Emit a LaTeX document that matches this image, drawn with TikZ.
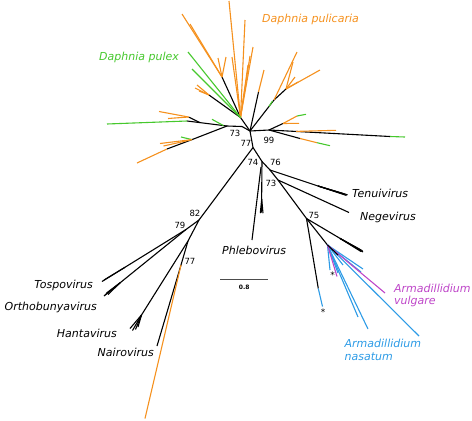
\documentclass[tikz,border=0pt]{standalone}
\usepackage{fontspec}
\setmainfont{DejaVu Sans}
\usepackage{tikz}
\usetikzlibrary{positioning}
\definecolor{PulicariaColor}{RGB}{245,145,30}
\definecolor{PulexColor}{RGB}{70,200,45}
\definecolor{NasatumColor}{RGB}{45,155,230}
\definecolor{VulgareColor}{RGB}{190,70,200}
\tikzstyle{branch} = [line width=1.1pt, black]
\tikzstyle{pulicaria} = [line width=1.1pt, PulicariaColor]
\tikzstyle{pulex} = [line width=1.1pt, PulexColor]
\tikzstyle{nasatum} = [line width=1.1pt, NasatumColor]
\tikzstyle{vulgare} = [line width=1.1pt, VulgareColor]
\tikzstyle{taxon} = [inner sep=0pt, font=\fontsize{11}{13}\selectfont\itshape]
\tikzstyle{support} = [inner sep=0pt, font=\fontsize{8.5}{10}\selectfont]
\tikzstyle{starlabel} = [inner sep=0pt, font=\fontsize{9}{10}\selectfont]

\begin{document}
\begin{tikzpicture}[x=1pt, y=-1pt]
\useasboundingbox (0,0) rectangle (472,421);

% inner nodes
\coordinate (hub) at (250,131);
\coordinate (nTop) at (240.5,117.5);
\coordinate (nLeft) at (227,126);
\coordinate (n73) at (242,126.5);
\coordinate (n99) at (269,130);
\coordinate (nB) at (253,147.5);
\coordinate (n74) at (262,161.5);
\coordinate (n76) at (270,170);
\coordinate (n73b) at (278,180);
\coordinate (n75) at (306.5,218.5);
\coordinate (nArm) at (327.5,245);
\coordinate (n82) at (199,220);
\coordinate (n79) at (186,229.5);
\coordinate (nHanta) at (188,241);
\coordinate (n77b) at (181,265);

\draw[branch] (nTop) -- (hub);
\draw[branch] (nLeft) -- (n73) -- (hub) -- (n99);
\draw[branch] (hub) -- (nB) -- (n74) -- (n76) -- (n73b) -- (n75) -- (nArm);
\draw[branch] (nB) -- (n82) -- (n79);
\draw[branch] (n82) -- (nHanta) -- (n77b);

% Daphnia, upper left
\coordinate (ulA) at (222,77);
\coordinate (ulB) at (209,95);
\draw[branch] (nTop) -- (ulA);
\draw[branch] (nTop) -- (ulB);
\foreach \n/\x/\y in {1/229/1, 2/245/20, 3/253/47, 4/250/56, 5/232/57, 6/248/65} {
    \coordinate (up\n) at (\x,\y);
    \draw[pulicaria] (nTop) -- (up\n);
}
\foreach \n/\x/\y in {1/182/14, 2/190/24, 3/218/58, 4/226/57} {
    \coordinate (ua\n) at (\x,\y);
    \draw[pulicaria] (ulA) -- (ua\n);
}
\foreach \n/\x/\y in {1/197/85, 2/199/91, 3/195/88} {
    \coordinate (ub\n) at (\x,\y);
    \draw[pulicaria] (ulB) -- (ub\n);
}
\foreach \n/\x/\y in {1/188/52, 2/192/69} {
    \coordinate (ug\n) at (\x,\y);
    \draw[pulex] (nTop) -- (ug\n);
}

% Daphnia, left
\coordinate (lA) at (187,121);
\coordinate (lB) at (200,122.6);
\coordinate (lC) at (188.5,117);
\coordinate (lD) at (223.5,125.6);
\coordinate (lGreen) at (107,124);
\coordinate (lGreenB) at (212,119.3);
\draw[branch] (nLeft) -- (lA);
\draw[branch] (lB) -- (lC);
\draw[pulex] (lA) -- (lGreen);
\draw[pulex] (lD) -- (lGreenB);
\foreach \n/\x/\y in {1/159/111.5, 2/168/118.5} {
    \coordinate (lo\n) at (\x,\y);
    \draw[pulicaria] (lC) -- (lo\n);
}

% Daphnia, lower left
\coordinate (llA) at (192,139.6);
\coordinate (llB) at (167,149);
\coordinate (llOr) at (137,163);
\coordinate (llGreen) at (181,137);
\draw[branch] (nLeft) -- (llA) -- (llB);
\draw[pulicaria] (llB) -- (llOr);
\draw[pulex] (llA) -- (llGreen);
\foreach \n/\x/\y in {1/160/143.5, 2/163.5/146} {
    \coordinate (llo\n) at (\x,\y);
    \draw[pulicaria] (llA) -- (llo\n);
}

% Daphnia, upper right
\coordinate (urA) at (258.5,92);
\coordinate (urB) at (274,100);
\coordinate (urC) at (286,89);
\coordinate (urTip) at (264,70);
\coordinate (urD) at (297,52);
\coordinate (urE) at (269,106.5);
\coordinate (urF) at (272.5,101);
\draw[branch] (hub) -- (urA);
\draw[branch] (hub) -- (urB) -- (urC);
\draw[pulicaria] (urA) -- (urTip);
\draw[pulicaria] (urB) -- (urD);
\draw[pulex] (urE) -- (urF);
\foreach \n/\x/\y in {1/293/62, 2/320/70, 3/295/77, 4/298/82} {
    \coordinate (uro\n) at (\x,\y);
    \draw[pulicaria] (urC) -- (uro\n);
}

% Daphnia, right
\coordinate (rA) at (390,136.5);
\coordinate (rB) at (300,138.5);
\coordinate (rC) at (283,123.5);
\coordinate (rD) at (296,131.4);
\coordinate (rE) at (317,142.7);
\coordinate (rF) at (297,116);
\coordinate (rG) at (299,123.3);
\coordinate (rOrA) at (336,130.3);
\coordinate (rGreenA) at (405,137);
\coordinate (rGreenB) at (330,145.7);
\coordinate (rGreenC) at (306,114.3);
\draw[branch] (n99) -- (rA);
\draw[branch] (n99) -- (rB);
\draw[branch] (n99) -- (rC);
\draw[pulex] (rA) -- (rGreenA);
\draw[pulicaria] (rD) -- (rOrA);
\draw[pulicaria] (rB) -- (rE);
\draw[pulex] (rE) -- (rGreenB);
\draw[pulicaria] (rC) -- (rF);
\draw[pulex] (rF) -- (rGreenC);
\draw[pulicaria] (rC) -- (rG);

% Phlebovirus
\coordinate (phA) at (261.5,212.5);
\coordinate (phB) at (252,240);
\coordinate (phC) at (261,167);
\coordinate (phD) at (261.7,199);
\draw[branch] (n74) -- (phA);
\draw[branch] (phC) -- (phB);
\foreach \n/\x in {1/260.3, 2/263} {
    \coordinate (phT\n) at (\x,213.2);
    \draw[branch] (phD) -- (phT\n);
}

% Tenuivirus and Negevirus
\coordinate (tenA) at (346.5,195.5);
\coordinate (tenB) at (318,186);
\coordinate (neg) at (349,212.5);
\draw[branch] (n76) -- (tenA);
\draw[branch] (n73b) -- (neg);
\foreach \n/\x/\y in {1/343/193.6, 2/345/194.3, 3/347.5/194.8} {
    \coordinate (tenT\n) at (\x,\y);
    \draw[branch] (tenB) -- (tenT\n);
}

% black clade next to the isopods
\coordinate (blkA) at (363,252);
\coordinate (blkB) at (340,238.4);
\draw[branch] (n75) -- (blkA);
\foreach \n/\x/\y in {1/361/251.5, 2/359.5/249.3, 3/362.5/250.8} {
    \coordinate (blkT\n) at (\x,\y);
    \draw[branch] (blkB) -- (blkT\n);
}
\coordinate (astA) at (318.3,288.5);
\coordinate (astB) at (322.5,306.5);
\draw[branch] (n75) -- (astA);
\draw[nasatum] (astA) -- (astB);

% Armadillidium
\foreach \n/\x/\y in {1/363/269, 2/361/272, 3/343/265, 4/419/336, 5/368/329, 6/358/317, 7/338/273, 8/330/270} {
    \coordinate (nas\n) at (\x,\y);
    \draw[nasatum] (nArm) -- (nas\n);
}
\foreach \n/\x/\y in {1/385/293, 2/337/276.5} {
    \coordinate (vul\n) at (\x,\y);
    \draw[vulgare] (nArm) -- (vul\n);
}
\coordinate (armStem) at (338,255);
\draw[branch] (nArm) -- (armStem);

% lower left clades
\coordinate (tos) at (102,281.5);
\coordinate (tosB) at (125,267.3);
\coordinate (tosT) at (104,280);
\coordinate (ort) at (105,295);
\coordinate (ortB) at (120,282.9);
\coordinate (hanA) at (141.5,315);
\coordinate (nai) at (157,346);
\coordinate (naiOr) at (145,418.5);
\draw[branch] (n79) -- (tos);
\draw[branch] (tosB) -- (tosT);
\draw[branch] (n79) -- (ort);
\foreach \n/\x/\y in {1/106.5/293, 2/108/294.5, 3/104/296} {
    \coordinate (ortT\n) at (\x,\y);
    \draw[branch] (ortB) -- (ortT\n);
}
\draw[branch] (nHanta) -- (hanA);
\foreach \n/\x/\y in {1/130/328.5, 2/132.5/330.5, 3/135.5/329.5, 4/138/327} {
    \coordinate (hanT\n) at (\x,\y);
    \draw[branch] (hanA) -- (hanT\n);
}
\draw[branch] (n77b) -- (nai);
\draw[pulicaria] (n77b) -- (naiOr);

% scale bar
\coordinate (scaleL) at (220,279.5);
\coordinate (scaleR) at (268,279.5);
\draw[line width=0.7pt, black!70] (scaleL) -- (scaleR);
\node[inner sep=0pt, font=\fontsize{6}{7}\selectfont\bfseries] (scaleLbl) at (244.3,287.5) {0.8};

% support values
\node[support] (bsA) at (235,133) {73};
\node[support] (bsB) at (246,143) {77};
\node[support] (bsC) at (269,140) {99};
\node[support] (bsD) at (253,162.5) {74};
\node[support] (bsE) at (275.5,162.5) {76};
\node[support] (bsF) at (271,183) {73};
\node[support] (bsG) at (314,215.7) {75};
\node[support] (bsH) at (195,213.3) {82};
\node[support] (bsI) at (180,225) {79};
\node[support] (bsJ) at (190,261.7) {77};
\node[starlabel] (starA) at (332.5,275.5) {*};
\node[starlabel] (starB) at (323,312.5) {*};

% taxa
\node[taxon, text=PulicariaColor, anchor=west] (lblPulicaria) at (262,19) {Daphnia pulicaria};
\node[taxon, text=PulexColor, anchor=west] (lblPulex) at (99,57) {Daphnia pulex};
\node[taxon, anchor=west] (lblTenui) at (352,193) {Tenuivirus};
\node[taxon, anchor=west] (lblNege) at (360,217.5) {Negevirus};
\node[taxon, anchor=west] (lblPhlebo) at (222,250) {Phlebovirus};
\node[taxon, anchor=east] (lblTospo) at (93,285.5) {Tospovirus};
\node[taxon, anchor=east] (lblOrtho) at (97,307) {Orthobunyavirus};
\node[taxon, anchor=east] (lblHanta) at (117,333) {Hantavirus};
\node[taxon, anchor=east] (lblNairo) at (154,352) {Nairovirus};
\node[taxon, text=VulgareColor, anchor=base west] (lblVulA) at (394,292) {Armadillidium};
\node[taxon, text=VulgareColor, anchor=base west] (lblVulB) at (394,304.5) {vulgare};
\node[taxon, text=NasatumColor, anchor=base west] (lblNasA) at (344.5,347.5) {Armadillidium};
\node[taxon, text=NasatumColor, anchor=base west] (lblNasB) at (344.5,360) {nasatum};
\end{tikzpicture}
\end{document}
